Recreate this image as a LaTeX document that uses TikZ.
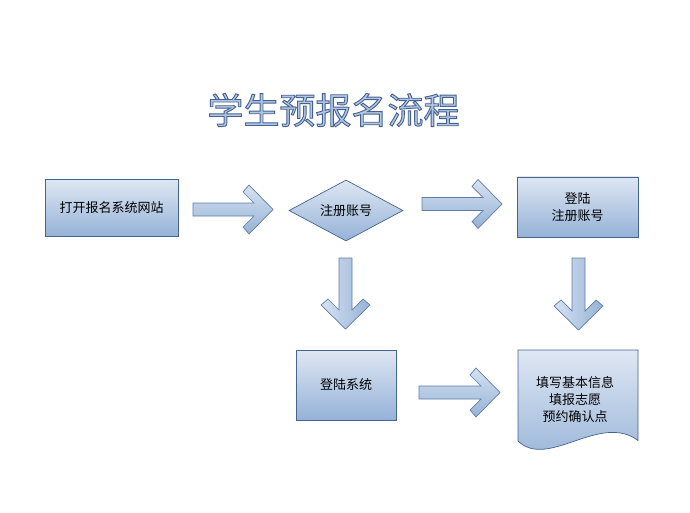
\documentclass[tikz,border=0pt]{standalone}
\usepackage{fontspec}
\newfontfamily\cjk{Noto Sans CJK SC}
\font\titlefont="Noto Sans CJK SC:embolden=2.5" at 36pt
\usetikzlibrary{shapes.geometric}
\definecolor{boxTop}{RGB}{222,231,243}
\definecolor{boxBot}{RGB}{149,178,215}
\definecolor{boxLine}{RGB}{70,100,145}
\definecolor{arrLight}{RGB}{214,226,242}
\definecolor{arrDark}{RGB}{150,178,214}
\definecolor{arrLine}{RGB}{95,125,170}
\tikzset{
  box/.style={draw=boxLine, line width=0.7pt, top color=boxTop, bottom color=boxBot,
    font=\cjk\fontsize{13}{17}\selectfont, align=center, inner sep=0pt},
  harrow/.style={draw=arrLine, line width=0.7pt, top color=arrLight, bottom color=arrDark},
  varrow/.style={draw=arrLine, line width=0.7pt, left color=arrLight, right color=arrDark},
  titletext/.style={inner sep=0pt},
  blockarrow/.pic={
    \path[pic actions] (0,-6.5) -- (#1-19,-6.5) -- (#1-30,-17.5) -- (#1-24,-24.5)
      -- (#1,0) -- (#1-24,24.5) -- (#1-30,17.5) -- (#1-19,6.5) -- (0,6.5) -- cycle;
  }
}
\begin{document}
\begin{tikzpicture}[x=1pt,y=-1pt]
\useasboundingbox (0,0) rectangle (690,513);
\fill[white] (0,0) rectangle (690,513);

% title: light fill with dark outline
\node[titletext] (title) at (333.5,110)
  {\special{pdf:bcolor [0.70 0.78 0.89] [0.27 0.38 0.56]}\titlefont 学生预报名流程\special{pdf:ecolor}};

% nodes
\node[box, minimum width=133pt, minimum height=57pt] (open) at (111.5,208) {打开报名系统网站};
\node[box, diamond, aspect=1.87, minimum width=114pt, minimum height=61pt] (reg) at (346,210.5) {注册账号};
\node[box, minimum width=121pt, minimum height=60pt] (login1) at (577.5,207) {登陆\\注册账号};
\node[box, minimum width=100pt, minimum height=70pt] (login2) at (346,385) {登陆系统};

% document shape
\path[box] (518,350) -- (638,350) -- (638,440.5)
  .. controls (600,412) and (548,470) .. (518,441) -- cycle;
\node[font=\cjk\fontsize{13}{17}\selectfont, align=center, inner sep=0pt] (fill) at (575,399)
  {填写基本信息\\填报志愿\\预约确认点};

% block arrows
\pic[harrow] (a1) at (193,209.5) {blockarrow=80};
\pic[harrow] (a2) at (422,204) {blockarrow=80};
\pic[harrow] (a3) at (419,392.5) {blockarrow=81};
\pic[varrow, rotate=-90] (a4) at (345.5,258) {blockarrow=71};
\pic[varrow, rotate=-90] (a5) at (578.5,258) {blockarrow=72};
\end{tikzpicture}
\end{document}
